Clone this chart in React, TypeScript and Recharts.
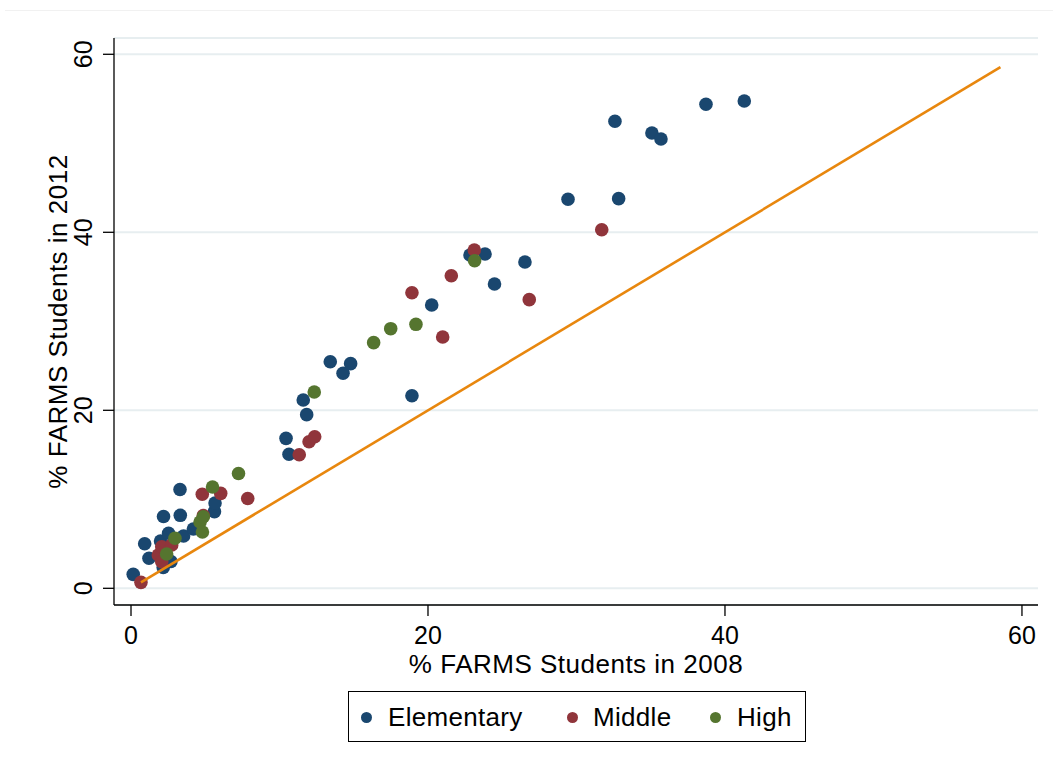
import React from 'react';
import { ScatterChart, Scatter, XAxis, YAxis, CartesianGrid, Label } from 'recharts';

const FONT = '"Liberation Sans", Arial, Helvetica, sans-serif';

// % of FARMS students per school, 2008 (x) vs 2012 (y)
const elementary2008 = [0.15, 0.92, 1.21, 2.19, 1.99, 2.53, 2.69, 2.17, 3.30, 3.32, 3.54, 4.20, 5.62, 5.66, 10.44, 10.64, 11.60, 11.83, 13.42, 14.28, 14.79, 18.92, 20.25, 22.83, 23.84, 24.48, 26.53, 29.43, 32.59, 32.84, 35.08, 35.69, 38.72, 41.30];
const elementary2012 = [1.57, 5.01, 3.37, 8.07, 5.31, 6.18, 3.01, 2.34, 11.10, 8.20, 5.88, 6.66, 8.61, 9.58, 16.85, 15.06, 21.16, 19.51, 25.46, 24.16, 25.24, 21.64, 31.83, 37.45, 37.56, 34.19, 36.66, 43.71, 52.47, 43.78, 51.16, 50.48, 54.38, 54.75];

const middle2008 = [0.67, 1.84, 2.07, 2.07, 2.74, 4.80, 4.87, 6.04, 7.86, 11.33, 11.99, 12.37, 18.92, 20.99, 21.57, 23.12, 26.82, 31.70];
const middle2012 = [0.67, 3.74, 4.67, 2.99, 4.87, 10.56, 8.18, 10.67, 10.09, 15.01, 16.47, 17.03, 33.21, 28.24, 35.12, 38.01, 32.43, 40.29];

const high2008 = [2.40, 2.96, 4.65, 4.81, 4.87, 5.49, 7.24, 12.34, 16.34, 17.49, 19.19, 23.14];
const high2012 = [3.85, 5.62, 7.45, 6.33, 8.04, 11.38, 12.90, 22.06, 27.60, 29.17, 29.66, 36.81];

// 45-degree reference line (2012 = 2008), endpoints
const equalityLine = [0.67, 58.55];

const axisTicks = [0, 20, 40, 60];
const xTitle = '% FARMS Students in 2008';
const yTitle = '% FARMS Students in 2012';

const seriesNames = ['Elementary', 'Middle', 'High'];
const seriesColors = ['#1a476f', '#90353b', '#55752f'];
const lineColor = '#e8870e';

const toPoints = (xs: number[], ys: number[]) => xs.map((x, i) => ({ x, y: ys[i] }));

const elementaryPts = toPoints(elementary2008, elementary2012);
const middlePts = toPoints(middle2008, middle2012);
const highPts = toPoints(high2008, high2012);
const linePts = toPoints(equalityLine, equalityLine);

const dot = (color: string) => (props: any) => (
  <circle cx={props.cx} cy={props.cy} r={6.8} fill={color} stroke="none" />
);

const XTick = (props: any) => (
  <text x={props.x} y={props.y + 16} textAnchor="middle" fontSize={25} fontFamily={FONT} fill="#000">
    {props.payload.value}
  </text>
);

const YTick = (props: any) => (
  <text
    x={props.x}
    y={props.y}
    transform={`rotate(-90, ${props.x}, ${props.y})`}
    textAnchor="middle"
    fontSize={25}
    fontFamily={FONT}
    fill="#000"
  >
    {props.payload.value}
  </text>
);

const legendItems = [
  { dotX: 366, textX: 388 },
  { dotX: 572, textX: 593 },
  { dotX: 715, textX: 737 },
];

export default function App() {
  return (
    <div style={{ position: 'absolute', left: 0, top: 0, width: 1053, height: 773, background: '#fff', fontFamily: FONT }}>
      <div style={{ position: 'absolute', left: 5, top: 10, width: 1048, height: 1, background: '#f1f1f1' }} />
      <ScatterChart width={1053} height={773} margin={{ top: 38, right: 15, bottom: 108, left: 0 }}>
        <CartesianGrid horizontal vertical={false} stroke="#e7eef0" strokeWidth={2} />
        <XAxis
          type="number"
          dataKey="x"
          domain={[-1.145, 61.08]}
          allowDataOverflow
          ticks={axisTicks}
          interval={0}
          height={60}
          tickSize={11}
          tickMargin={12}
          axisLine={{ stroke: '#000', strokeWidth: 1.3 }}
          tickLine={{ stroke: '#000', strokeWidth: 1.3 }}
          tick={XTick}
        >
          <Label
            content={(p: any) => (
              <text
                x={p.viewBox.x + p.viewBox.width / 2}
                y={p.viewBox.y + 68}
                textAnchor="middle"
                fontSize={26}
                letterSpacing={0.5}
                fontFamily={FONT}
                fill="#000"
              >
                {xTitle}
              </text>
            )}
          />
        </XAxis>
        <YAxis
          type="number"
          dataKey="y"
          domain={[-1.876, 61.83]}
          allowDataOverflow
          ticks={axisTicks}
          interval={0}
          width={114}
          tickSize={11}
          tickMargin={11}
          axisLine={{ stroke: '#000', strokeWidth: 1.3 }}
          tickLine={{ stroke: '#000', strokeWidth: 1.3 }}
          tick={YTick}
        >
          <Label
            content={(p: any) => {
              const cx = 67;
              const cy = p.viewBox.y + p.viewBox.height / 2;
              return (
                <text
                  x={cx}
                  y={cy}
                  transform={`rotate(-90, ${cx}, ${cy})`}
                  textAnchor="middle"
                  fontSize={26}
                  letterSpacing={0.5}
                  fontFamily={FONT}
                  fill="#000"
                >
                  {yTitle}
                </text>
              );
            }}
          />
        </YAxis>
        <Scatter name={seriesNames[0]} data={elementaryPts} fill={seriesColors[0]} shape={dot(seriesColors[0])} isAnimationActive={false} />
        <Scatter name={seriesNames[1]} data={middlePts} fill={seriesColors[1]} shape={dot(seriesColors[1])} isAnimationActive={false} />
        <Scatter name={seriesNames[2]} data={highPts} fill={seriesColors[2]} shape={dot(seriesColors[2])} isAnimationActive={false} />
        <Scatter
          data={linePts}
          line={{ stroke: lineColor, strokeWidth: 2.6 }}
          shape={() => <g />}
          isAnimationActive={false}
          legendType="none"
        />
      </ScatterChart>
      <div
        style={{
          position: 'absolute',
          left: 348,
          top: 691,
          width: 456,
          height: 49,
          border: '1px solid #000',
          boxSizing: 'content-box',
        }}
      />
      {seriesNames.map((name, i) => (
        <React.Fragment key={name}>
          <div
            style={{
              position: 'absolute',
              left: legendItems[i].dotX - 5.5,
              top: 717 - 5.5,
              width: 11,
              height: 11,
              borderRadius: '50%',
              background: seriesColors[i],
            }}
          />
          <div
            style={{
              position: 'absolute',
              left: legendItems[i].textX,
              top: 702,
              fontSize: 26,
              letterSpacing: 0.3,
              lineHeight: '30px',
              color: '#000',
              whiteSpace: 'nowrap',
            }}
          >
            {name}
          </div>
        </React.Fragment>
      ))}
    </div>
  );
}
